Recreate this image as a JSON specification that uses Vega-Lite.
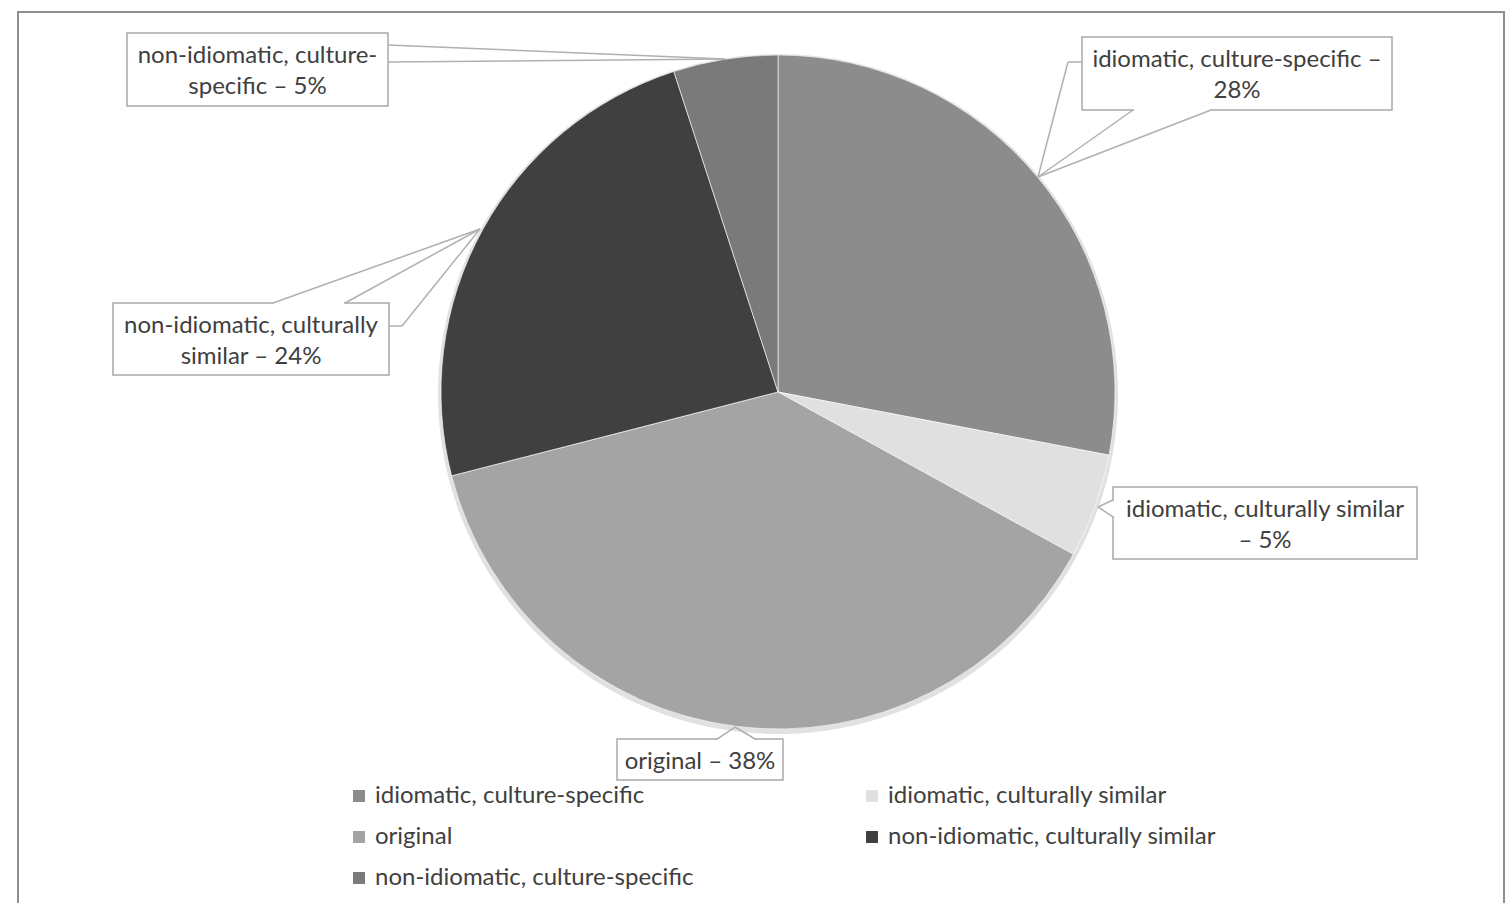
{
  "$schema": "https://vega.github.io/schema/vega-lite/v6.json",
  "width": 1486,
  "height": 900,
  "padding": {"left": 18, "top": 12, "right": 8, "bottom": 0},
  "autosize": {"type": "pad"},
  "background": "white",
  "datasets": {
    "slices": [
      {"category": "idiomatic, culture-specific", "pct": 28, "rank": 1},
      {"category": "idiomatic, culturally similar", "pct": 5, "rank": 2},
      {"category": "original", "pct": 38, "rank": 3},
      {"category": "non-idiomatic, culturally similar", "pct": 24, "rank": 4},
      {"category": "non-idiomatic, culture-specific", "pct": 5, "rank": 5}
    ],
    "boxes": [
      {"label": "non-idiomatic, culture-\nspecific – 5%", "x0": -1.9318, "x1": -1.1573, "y0": 1.0653, "y1": 0.8487},
      {"label": "idiomatic, culture-specific –\n28%", "x0": 0.9021, "x1": 1.8220, "y0": 1.0534, "y1": 0.8368},
      {"label": "idiomatic, culturally similar\n– 5%", "x0": 0.9941, "x1": 1.8961, "y0": -0.2819, "y1": -0.4955},
      {"label": "non-idiomatic, culturally\nsimilar – 24%", "x0": -1.9733, "x1": -1.1543, "y0": 0.2641, "y1": 0.0504},
      {"label": "original – 38%", "x0": -0.4777, "x1": 0.0148, "y0": -1.0297, "y1": -1.1513}
    ],
    "gaps": [
      {"x0": 1.0564, "y0": 0.8368, "x1": 1.2819, "y1": 0.8368},
      {"x0": 0.9941, "y0": -0.3235, "x1": 0.9941, "y1": -0.3679},
      {"x0": -1.4955, "y0": 0.2641, "x1": -1.2879, "y1": 0.2641},
      {"x0": -0.1780, "y0": -1.0297, "x1": -0.0712, "y1": -1.0297}
    ],
    "leaders": [
      {"x0": -1.1573, "y0": 1.0297, "x1": -0.1573, "y1": 0.9881},
      {"x0": -1.1573, "y0": 0.9792, "x1": -0.1573, "y1": 0.9881},
      {"x0": 0.9021, "y0": 0.9792, "x1": 0.8605, "y1": 0.9792},
      {"x0": 0.8605, "y0": 0.9792, "x1": 0.7715, "y1": 0.6380},
      {"x0": 1.0534, "y0": 0.8368, "x1": 0.7715, "y1": 0.6380},
      {"x0": 1.2849, "y0": 0.8368, "x1": 0.7715, "y1": 0.6380},
      {"x0": 0.9941, "y0": -0.3205, "x1": 0.9496, "y1": -0.3412},
      {"x0": 0.9496, "y0": -0.3412, "x1": 0.9941, "y1": -0.3709},
      {"x0": -1.4985, "y0": 0.2641, "x1": -0.8843, "y1": 0.4837},
      {"x0": -1.2849, "y0": 0.2641, "x1": -0.8843, "y1": 0.4837},
      {"x0": -1.1543, "y0": 0.1958, "x1": -1.1157, "y1": 0.1958},
      {"x0": -1.1157, "y0": 0.1958, "x1": -0.8843, "y1": 0.4837},
      {"x0": -0.1810, "y0": -1.0297, "x1": -0.1276, "y1": -0.9941},
      {"x0": -0.1276, "y0": -0.9941, "x1": -0.0682, "y1": -1.0297}
    ]
  },
  "layer": [
    {
      "data": {"name": "slices"},
      "mark": {"type": "arc", "outerRadius": 340, "fill": "#d4d4d4", "opacity": 0.7},
      "encoding": {
        "x": {"datum": 0, "type": "quantitative", "axis": null,
              "scale": {"domain": [-2.2552, 2.1543], "nice": false, "zero": false}},
        "y": {"datum": -0.006, "type": "quantitative", "axis": null,
              "scale": {"domain": [-1.54303, 1.12760], "nice": false, "zero": false}},
        "theta": {"field": "pct", "type": "quantitative", "stack": true},
        "order": {"field": "rank", "type": "quantitative"}
      }
    },
    {
      "data": {"name": "slices"},
      "mark": {"type": "arc", "outerRadius": 337, "stroke": "#ffffff", "strokeWidth": 1, "strokeOpacity": 0.6},
      "encoding": {
        "x": {"datum": 0, "type": "quantitative"},
        "y": {"datum": 0, "type": "quantitative"},
        "theta": {"field": "pct", "type": "quantitative", "stack": true},
        "order": {"field": "rank", "type": "quantitative"},
        "color": {
          "field": "category",
          "type": "nominal",
          "scale": {
            "domain": ["idiomatic, culture-specific", "original", "non-idiomatic, culture-specific", "idiomatic, culturally similar", "non-idiomatic, culturally similar"],
            "range": ["#8c8c8c", "#a4a4a4", "#7a7a7a", "#e0e0e0", "#404040"]
          },
          "legend": {
            "title": null,
            "orient": "none",
            "legendX": 329,
            "legendY": 772,
            "columns": 2,
            "columnPadding": 166,
            "rowPadding": 17,
            "padding": 0,
            "symbolType": "square",
            "symbolSize": 144,
            "symbolStrokeWidth": 0,
            "labelFont": "Lato",
            "labelFontSize": 24,
            "labelColor": "#404040",
            "labelOffset": 4,
            "labelLimit": 0
          }
        }
      }
    },
    {
      "data": {"name": "boxes"},
      "mark": {"type": "rect", "fill": "#ffffff", "stroke": "#a8a8a8", "strokeWidth": 1.5},
      "encoding": {
        "x": {"field": "x0", "type": "quantitative"},
        "x2": {"field": "x1"},
        "y": {"field": "y0", "type": "quantitative"},
        "y2": {"field": "y1"}
      }
    },
    {
      "data": {"name": "gaps"},
      "mark": {"type": "rule", "stroke": "#ffffff", "strokeWidth": 2.5},
      "encoding": {
        "x": {"field": "x0", "type": "quantitative"},
        "x2": {"field": "x1"},
        "y": {"field": "y0", "type": "quantitative"},
        "y2": {"field": "y1"}
      }
    },
    {
      "data": {"name": "leaders"},
      "mark": {"type": "rule", "stroke": "#b0b0b0", "strokeWidth": 1.5},
      "encoding": {
        "x": {"field": "x0", "type": "quantitative"},
        "x2": {"field": "x1"},
        "y": {"field": "y0", "type": "quantitative"},
        "y2": {"field": "y1"}
      }
    },
    {
      "data": {"name": "boxes"},
      "transform": [
        {"calculate": "(datum.x0 + datum.x1) / 2", "as": "cx"},
        {"calculate": "datum.y0 - 0.0682", "as": "cy"}
      ],
      "mark": {"type": "text", "font": "Lato", "fontSize": 24, "color": "#404040", "lineBreak": "\n", "lineHeight": 31, "align": "center", "baseline": "middle"},
      "encoding": {
        "x": {"field": "cx", "type": "quantitative"},
        "y": {"field": "cy", "type": "quantitative"},
        "text": {"field": "label"}
      }
    }
  ],
  "config": {
    "view": {"stroke": "#8e8e8e", "strokeWidth": 2}
  }
}
